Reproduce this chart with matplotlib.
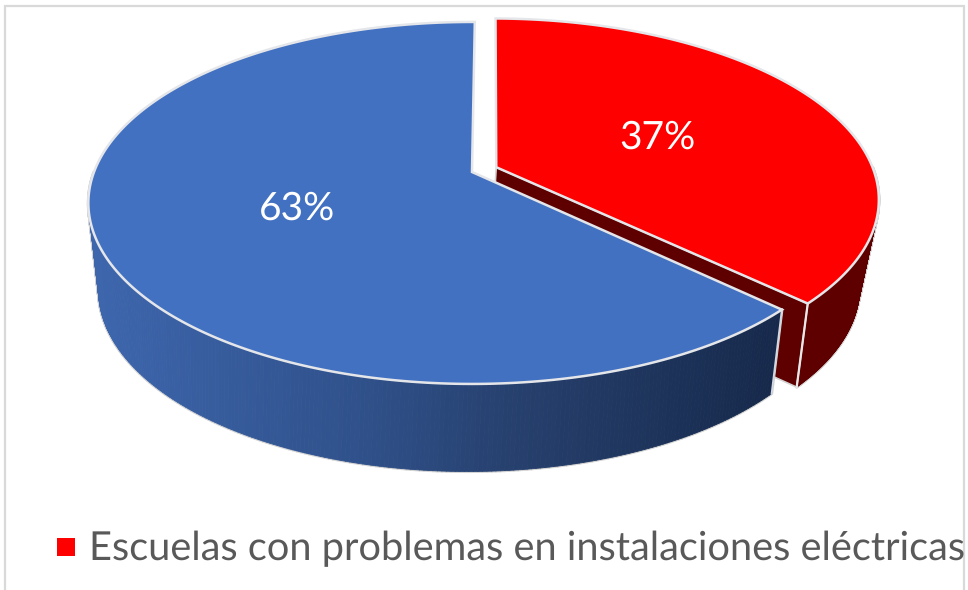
import numpy as np
import matplotlib
matplotlib.use('Agg')
import matplotlib.pyplot as plt
from matplotlib.collections import PolyCollection
from matplotlib.colors import LinearSegmentedColormap
from matplotlib.patches import Polygon, Rectangle

# data
slice_values = [37, 63]
legend_names = ['Escuelas con problemas en instalaciones eléctricas']

# projection of the pie plane to pixels (tilted disc with some perspective)
TOP_PLANE = (472, 378, 175.7, 0.171, 172)
BOTTOM_PLANE = (468, 362, 174, 0.2, 254)
START = 0.5
EXPLODE = 0.07

plt.rcParams['font.family'] = ['Lato', 'DejaVu Sans']
plt.rcParams['text.hinting'] = 'no_hinting'


def project(x, y, plane=TOP_PLANE):
    cx, f, g, k, cy = plane
    w = 1 + k * y
    return cx + f * x / w, cy - g * y / w


def slice_plane(a0, a1, shift, n=240):
    t = np.radians(np.linspace(a0, a1, n))
    return np.sin(t) + shift[0], np.cos(t) + shift[1]


def draw_side(ax, a0, a1, shift, cmap, z):
    x, y = slice_plane(a0, a1, shift)
    tx, ty = project(x, y)
    bx, by = project(x, y, BOTTOM_PLANE)
    quads = []
    colors = []
    for i in range(len(x) - 1):
        quads.append([(tx[i], ty[i]), (tx[i + 1], ty[i + 1]),
                      (bx[i + 1], by[i + 1]), (bx[i], by[i])])
        colors.append(cmap(float(np.clip((bx[i] - 100) / (775 - 100), 0, 1))))
    # grey stroke underneath leaves a thin outline round the whole wall
    ax.add_collection(PolyCollection(quads, facecolors='#d4d4d4', edgecolors='#d4d4d4',
                                     linewidths=2.2, zorder=z - 0.1))
    ax.add_collection(PolyCollection(quads, facecolors=colors, edgecolors=colors,
                                     linewidths=0.6, zorder=z))
    return tx, ty, bx, by


def draw_top(ax, a0, a1, shift, color, z):
    x, y = slice_plane(a0, a1, shift)
    px, py = project(x, y)
    pts = [project(shift[0], shift[1])] + list(zip(px, py))
    ax.add_patch(Polygon(pts, closed=True, facecolor=color, edgecolor='#e4e6ea',
                         lw=1.8, joinstyle='miter', zorder=z))


fig = plt.figure(figsize=(9.68, 5.9), dpi=100)
ax = fig.add_axes([0, 0, 1, 1])
ax.set_xlim(0, 968)
ax.set_ylim(590, 0)
ax.axis('off')

# chart frame
ax.add_patch(Rectangle((5, 6), 959, 600, facecolor='white', edgecolor='#d9d9d9', lw=1.6, zorder=0))

total = sum(slice_values)
red_span = 360 * slice_values[0] / total
red_end = START + red_span
blue_end = START + 360
mid = np.radians(START + red_span / 2)
shift = (EXPLODE * np.sin(mid), EXPLODE * np.cos(mid))

dark_red = LinearSegmentedColormap.from_list('dr', ['#5f0000', '#5f0000'])
blue_side = LinearSegmentedColormap.from_list(
    'bs', [(0, '#3d66ad'), (0.4, '#2f5089'), (0.6, '#27416f'), (1, '#16294b')])

# red slice: outer wall, cut wall facing the viewer, then top
tx, ty, bx, by = draw_side(ax, 90, red_end, shift, dark_red, 2)
ap_t = project(shift[0], shift[1])
ap_b = project(shift[0], shift[1], BOTTOM_PLANE)
ax.add_patch(Polygon([ap_t, (tx[-1], ty[-1]), (bx[-1], by[-1]), ap_b], closed=True,
                     facecolor='#5f0000', edgecolor='#d4d4d4', lw=1.2, zorder=2.2))
ax.plot([tx[-1], bx[-1]], [ty[-1], by[-1]], color='#e8e8e8', lw=1.6, zorder=2.3)
draw_top(ax, START, red_end, shift, '#ff0000', 2.4)

# blue slice goes in front of the red one
tx, ty, bx, by = draw_side(ax, red_end, 270, (0, 0), blue_side, 3)
ax.plot([tx[0], bx[0]], [ty[0], by[0]], color='#d4d8e0', lw=1.4, zorder=3.2)
draw_top(ax, red_end, blue_end, (0, 0), '#4371c1', 3.4)

# percentage labels
ax.text(657, 138, f'{slice_values[0]}%', color='white', fontsize=28, ha='center', va='center', zorder=5)
ax.text(297, 209, f'{slice_values[1]}%', color='white', fontsize=28, ha='center', va='center', zorder=5)

# legend only lists the red series
ax.add_patch(Rectangle((57, 538), 18, 18, facecolor='#ff0000', edgecolor='none', zorder=5))
ax.text(89, 560, legend_names[0], color='#595959', fontsize=28.6, ha='left', va='baseline', zorder=5)

fig.savefig('out.png', dpi=100)
